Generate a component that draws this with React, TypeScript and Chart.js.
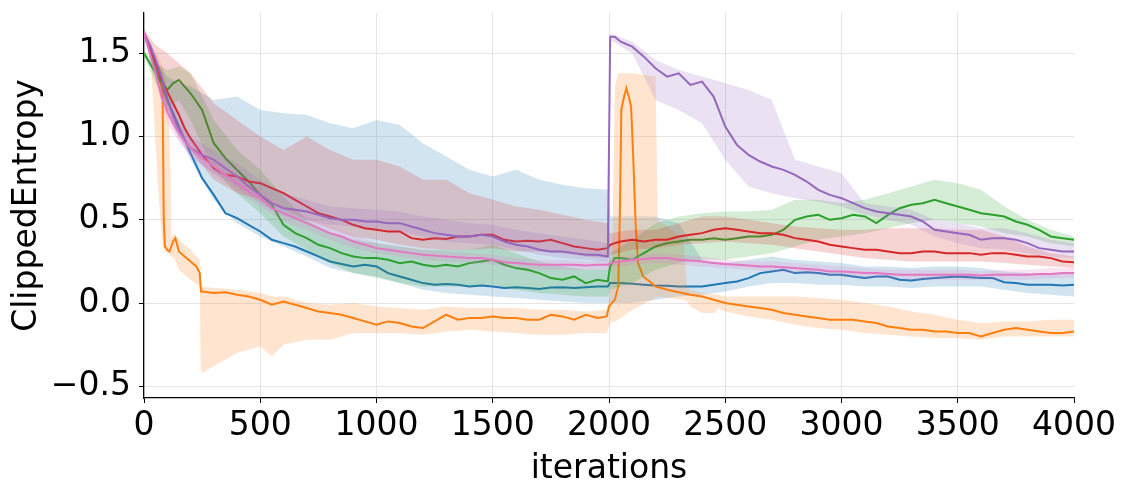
import React, { useEffect, useRef } from "react";
import Chart from "chart.js/auto";

// shared x positions for the mean curves
const XS = [
  0, 25, 50, 75, 100, 125, 150, 175, 200,
  250, 300, 350, 400, 450, 500, 550, 600, 650, 700, 750, 800, 850, 900, 950, 1000, 1050, 1100, 1150, 1200,
  1250, 1300, 1350, 1400, 1450, 1500, 1550, 1600, 1650, 1700, 1750, 1800, 1850, 1900, 1950,
  1995, 2005, 2025,
  2050, 2100, 2150, 2200, 2250, 2300, 2350, 2400, 2450, 2500, 2550, 2600, 2650, 2700, 2750, 2800, 2850,
  2900, 2950, 3000, 3050, 3100, 3150, 3200, 3250, 3300, 3350, 3400, 3450, 3500, 3550, 3600, 3650, 3700,
  3750, 3800, 3850, 3900, 3950, 4000,
];

const blueMean = [
  1.62, 1.52, 1.4, 1.31, 1.22, 1.14, 1.06, 0.98, 0.9,
  0.75, 0.65, 0.54, 0.51, 0.47, 0.43, 0.38, 0.36, 0.34, 0.31, 0.28, 0.25, 0.235, 0.22, 0.23, 0.22, 0.18, 0.16, 0.14, 0.12,
  0.11, 0.115, 0.11, 0.1, 0.105, 0.1, 0.09, 0.095, 0.09, 0.085, 0.094, 0.095, 0.09, 0.095, 0.1,
  0.1, 0.12, 0.12,
  0.12, 0.116, 0.11, 0.105, 0.104, 0.1, 0.1, 0.1, 0.11, 0.12, 0.13, 0.15, 0.18, 0.19, 0.2, 0.18, 0.185,
  0.18, 0.17, 0.17, 0.16, 0.15, 0.16, 0.16, 0.14, 0.135, 0.145, 0.15, 0.155, 0.16, 0.155, 0.15, 0.15, 0.125,
  0.12, 0.11, 0.11, 0.11, 0.105, 0.11,
];

const redMean = [
  1.62, 1.53, 1.44, 1.34, 1.27, 1.2, 1.13, 1.05, 0.99,
  0.89, 0.81, 0.77, 0.76, 0.73, 0.72, 0.69, 0.66, 0.62, 0.58, 0.54, 0.52, 0.5, 0.47, 0.45, 0.44, 0.43, 0.43, 0.39, 0.38,
  0.39, 0.385, 0.4, 0.4, 0.41, 0.41, 0.38, 0.37, 0.375, 0.37, 0.38, 0.36, 0.34, 0.33, 0.32,
  0.33, 0.35, 0.36,
  0.37, 0.38, 0.37, 0.38, 0.38, 0.4, 0.41, 0.42, 0.44, 0.45, 0.44, 0.43, 0.42, 0.42, 0.41, 0.39, 0.38,
  0.37, 0.35, 0.34, 0.33, 0.32, 0.32, 0.31, 0.3, 0.3, 0.31, 0.31, 0.3, 0.3, 0.3, 0.29, 0.3, 0.3,
  0.29, 0.28, 0.28, 0.27, 0.25, 0.245,
];

const purpleMean = [
  1.62, 1.55, 1.46, 1.36, 1.23, 1.12, 1.04, 0.98, 0.93,
  0.89, 0.86, 0.81, 0.76, 0.7, 0.65, 0.6, 0.57, 0.56, 0.55, 0.53, 0.51, 0.5, 0.5, 0.49, 0.49, 0.48, 0.48, 0.46, 0.44,
  0.42, 0.41, 0.4, 0.4, 0.41, 0.4, 0.37, 0.35, 0.34, 0.32, 0.31, 0.31, 0.3, 0.29, 0.29,
  0.28, 1.6, 1.6,
  1.57, 1.54, 1.48, 1.41, 1.36, 1.38, 1.31, 1.33, 1.24, 1.06, 0.95, 0.89, 0.85, 0.82, 0.8, 0.77, 0.73,
  0.68, 0.65, 0.63, 0.6, 0.57, 0.55, 0.54, 0.53, 0.52, 0.49, 0.44, 0.43, 0.42, 0.41, 0.38, 0.39, 0.39,
  0.38, 0.36, 0.33, 0.32, 0.31, 0.31,
];

const greenMean = [
  1.5, 1.44, 1.38, 1.33, 1.28, 1.32, 1.34, 1.3, 1.26,
  1.16, 0.96, 0.87, 0.8, 0.73, 0.65, 0.59, 0.47, 0.42, 0.39, 0.35, 0.33, 0.3, 0.28, 0.27, 0.27, 0.26, 0.24, 0.25, 0.23,
  0.22, 0.23, 0.22, 0.24, 0.25, 0.26, 0.23, 0.21, 0.2, 0.18, 0.15, 0.14, 0.16, 0.12, 0.14,
  0.13, 0.22, 0.27,
  0.27, 0.26, 0.3, 0.34, 0.36, 0.37, 0.38, 0.38, 0.39, 0.38, 0.39, 0.4, 0.4, 0.41, 0.44, 0.5, 0.52,
  0.53, 0.5, 0.51, 0.53, 0.52, 0.48, 0.53, 0.57, 0.59, 0.6, 0.62, 0.6, 0.58, 0.56, 0.54, 0.53, 0.52,
  0.49, 0.47, 0.44, 0.4, 0.39, 0.38,
];

const pinkMean = [
  1.62, 1.5, 1.38, 1.24, 1.15, 1.08, 1.02, 0.97, 0.93,
  0.87, 0.82, 0.77, 0.72, 0.67, 0.63, 0.57, 0.54, 0.51, 0.48, 0.45, 0.42, 0.4, 0.37, 0.35, 0.33, 0.32, 0.31, 0.3, 0.29,
  0.285, 0.28, 0.275, 0.27, 0.27, 0.26, 0.245, 0.24, 0.235, 0.23, 0.23, 0.23, 0.23, 0.225, 0.23,
  0.23, 0.24, 0.245,
  0.25, 0.26, 0.265, 0.27, 0.27, 0.26, 0.255, 0.25, 0.24, 0.235, 0.23, 0.225, 0.22, 0.22, 0.215, 0.21, 0.205,
  0.2, 0.19, 0.19, 0.185, 0.18, 0.18, 0.175, 0.17, 0.17, 0.17, 0.17, 0.17, 0.17, 0.17, 0.165, 0.17, 0.17,
  0.17, 0.17, 0.175, 0.175, 0.18, 0.18,
];

// orange has its own sharp features, so [iteration, value]
const orangeMean = [
  [0, 1.62], [25, 1.54], [50, 1.45], [70, 1.36], [80, 1.25], [85, 0.5], [90, 0.34], [100, 0.32],
  [110, 0.31], [125, 0.37], [135, 0.39], [150, 0.31], [175, 0.28], [200, 0.25], [225, 0.22], [240, 0.18],
  [245, 0.07], [250, 0.07], [300, 0.06], [350, 0.065], [400, 0.05], [450, 0.04], [500, 0.02], [550, -0.01],
  [600, 0.01], [650, -0.01], [700, -0.03], [750, -0.05], [800, -0.06], [850, -0.07], [900, -0.09],
  [950, -0.11], [1000, -0.13], [1050, -0.11], [1100, -0.12], [1150, -0.14], [1200, -0.15], [1250, -0.11],
  [1300, -0.07], [1350, -0.1], [1400, -0.09], [1450, -0.09], [1500, -0.08], [1550, -0.09], [1600, -0.09],
  [1650, -0.1], [1700, -0.1], [1750, -0.07], [1800, -0.08], [1850, -0.1], [1900, -0.07], [1950, -0.09],
  [1990, -0.08], [2000, -0.02], [2025, 0.02], [2040, 0.1], [2047, 0.56], [2053, 1.16], [2065, 1.24],
  [2075, 1.29], [2085, 1.24], [2095, 1.18], [2103, 0.92], [2115, 0.46], [2125, 0.24], [2147, 0.16],
  [2175, 0.13], [2200, 0.1], [2250, 0.08], [2300, 0.065], [2350, 0.05], [2400, 0.04], [2450, 0.02],
  [2500, 0.0], [2550, -0.01], [2600, -0.02], [2650, -0.03], [2700, -0.04], [2750, -0.06], [2800, -0.07],
  [2850, -0.08], [2900, -0.09], [2950, -0.1], [3000, -0.1], [3050, -0.1], [3100, -0.11], [3150, -0.12],
  [3200, -0.14], [3250, -0.15], [3300, -0.16], [3350, -0.16], [3400, -0.17], [3450, -0.17], [3500, -0.18],
  [3550, -0.18], [3600, -0.2], [3650, -0.18], [3700, -0.16], [3750, -0.15], [3800, -0.16], [3850, -0.17],
  [3900, -0.18], [3950, -0.18], [4000, -0.17],
];

// shaded spread, [iteration, low, high]
const orangeBand = [
  [0, 1.6, 1.64], [30, 1.45, 1.56], [40, 1.2, 1.52], [60, 0.7, 1.48], [80, 0.34, 1.42], [95, 0.3, 1.32],
  [105, 0.3, 1.2], [112, 0.29, 0.9], [118, 0.28, 0.4], [130, 0.27, 0.42], [150, 0.2, 0.38], [200, 0.14, 0.32],
  [240, 0.1, 0.26], [244, -0.4, 0.12], [250, -0.42, 0.1], [300, -0.38, 0.09], [400, -0.3, 0.08],
  [500, -0.26, 0.06], [550, -0.32, 0.04], [600, -0.25, 0.04], [700, -0.22, 0.0], [800, -0.22, -0.01],
  [900, -0.18, 0.0], [1000, -0.18, -0.02], [1100, -0.18, -0.03], [1200, -0.19, -0.04], [1300, -0.17, -0.02],
  [1400, -0.16, -0.03], [1500, -0.17, -0.03], [1600, -0.18, -0.03], [1700, -0.19, -0.04], [1800, -0.19, -0.04],
  [1900, -0.18, -0.05], [1990, -0.18, -0.04], [2005, -0.12, 0.05], [2015, -0.11, 0.4], [2025, -0.11, 1.3],
  [2040, -0.1, 1.38], [2100, -0.04, 1.38], [2200, 0.03, 1.36], [2210, 0.04, 0.5], [2260, 0.03, 0.45],
  [2320, 0.02, 0.38], [2335, 0.01, 0.1], [2350, -0.02, 0.08], [2400, -0.06, 0.06], [2455, -0.06, 0.05],
  [2470, -0.03, 0.05], [2500, -0.05, 0.04], [2600, -0.08, 0.04], [2700, -0.1, 0.04], [2800, -0.13, 0.04],
  [2900, -0.15, 0.03], [3000, -0.16, 0.02], [3100, -0.18, 0.0], [3200, -0.19, -0.02], [3300, -0.2, -0.05],
  [3400, -0.21, -0.07], [3500, -0.21, -0.1], [3600, -0.22, -0.12], [3700, -0.2, -0.11], [3800, -0.2, -0.11],
  [3900, -0.2, -0.1], [4000, -0.2, -0.1],
];

// x positions for the other shaded bands
const BAND_X = [
  0, 50, 100, 150, 200, 300, 400, 500, 600, 700, 800,
  900, 1000, 1100, 1200, 1300, 1400, 1500, 1600, 1700, 1800, 1900,
  1995, 2005, 2100, 2200, 2300, 2400, 2500, 2600, 2700, 2800, 2900,
  3000, 3100, 3200, 3300, 3400, 3500, 3600, 3700, 3800, 3900, 4000,
];

const blueLo = [
  1.6, 1.36, 1.17, 1.02, 0.86, 0.62, 0.48, 0.4, 0.34, 0.28, 0.21,
  0.18, 0.16, 0.12, 0.08, 0.06, 0.05, 0.04, 0.03, 0.02, 0.01, 0.0,
  0.0, 0.0, 0.0, 0.02, 0.04, 0.05, 0.07, 0.1, 0.12, 0.12, 0.11,
  0.11, 0.1, 0.1, 0.09, 0.1, 0.1, 0.1, 0.08, 0.06, 0.05, 0.04,
];
const blueHi = [
  1.64, 1.45, 1.36, 1.32, 1.3, 1.22, 1.24, 1.16, 1.14, 1.13, 1.08,
  1.05, 1.1, 1.07, 0.96, 0.88, 0.8, 0.76, 0.8, 0.74, 0.71, 0.69,
  0.68, 0.52, 0.52, 0.52, 0.48, 0.26, 0.24, 0.26, 0.28, 0.26, 0.25,
  0.24, 0.22, 0.22, 0.21, 0.22, 0.22, 0.21, 0.19, 0.18, 0.18, 0.18,
];

const redLo = [
  1.6, 1.4, 1.15, 1.02, 0.92, 0.74, 0.66, 0.62, 0.56, 0.5, 0.45,
  0.4, 0.38, 0.35, 0.33, 0.32, 0.32, 0.33, 0.31, 0.31, 0.3, 0.28,
  0.27, 0.29, 0.32, 0.33, 0.35, 0.36, 0.37, 0.36, 0.35, 0.33, 0.31,
  0.29, 0.27, 0.26, 0.25, 0.25, 0.25, 0.25, 0.24, 0.23, 0.22, 0.21,
];
const redHi = [
  1.64, 1.55, 1.5, 1.44, 1.38, 1.2, 1.1, 1.0, 0.92, 1.0, 0.92,
  0.86, 0.86, 0.82, 0.74, 0.74, 0.66, 0.62, 0.58, 0.56, 0.53, 0.5,
  0.48, 0.42, 0.44, 0.44, 0.48, 0.52, 0.52, 0.5, 0.48, 0.46, 0.45,
  0.44, 0.44, 0.45, 0.45, 0.45, 0.44, 0.44, 0.4, 0.34, 0.3, 0.28,
];

const purpleLo = [
  1.6, 1.42, 1.14, 0.98, 0.88, 0.78, 0.7, 0.6, 0.52, 0.5, 0.47,
  0.46, 0.45, 0.43, 0.4, 0.37, 0.36, 0.35, 0.32, 0.29, 0.27, 0.26,
  0.25, 1.58, 1.5, 1.22, 1.16, 1.08, 0.86, 0.7, 0.66, 0.63, 0.61,
  0.58, 0.53, 0.5, 0.47, 0.4, 0.36, 0.33, 0.32, 0.3, 0.28, 0.27,
];
const purpleHi = [
  1.64, 1.5, 1.28, 1.1, 1.0, 0.92, 0.84, 0.74, 0.66, 0.62, 0.58,
  0.57, 0.56, 0.55, 0.52, 0.5, 0.48, 0.47, 0.44, 0.42, 0.4, 0.38,
  0.36, 1.62, 1.57, 1.46, 1.4, 1.36, 1.32, 1.28, 1.22, 0.86, 0.82,
  0.78, 0.6, 0.58, 0.56, 0.5, 0.48, 0.45, 0.45, 0.42, 0.38, 0.36,
];

const greenLo = [
  1.48, 1.32, 1.18, 1.22, 1.1, 0.8, 0.66, 0.54, 0.4, 0.32, 0.24,
  0.18, 0.15, 0.12, 0.1, 0.1, 0.1, 0.11, 0.08, 0.06, 0.05, 0.04,
  0.04, 0.08, 0.12, 0.2, 0.24, 0.26, 0.26, 0.28, 0.3, 0.34, 0.38,
  0.4, 0.42, 0.45, 0.48, 0.5, 0.48, 0.46, 0.42, 0.4, 0.36, 0.34,
];
const greenHi = [
  1.52, 1.44, 1.4, 1.42, 1.38, 1.1, 0.92, 0.8, 0.64, 0.5, 0.42,
  0.38, 0.36, 0.34, 0.32, 0.32, 0.32, 0.35, 0.3, 0.25, 0.22, 0.2,
  0.2, 0.3, 0.38, 0.48, 0.52, 0.54, 0.55, 0.55, 0.56, 0.62, 0.62,
  0.6, 0.62, 0.66, 0.7, 0.74, 0.72, 0.68, 0.58, 0.5, 0.44, 0.4,
];

const pinkLo = [
  1.6, 1.34, 1.08, 0.97, 0.88, 0.77, 0.67, 0.58, 0.49, 0.44, 0.38,
  0.33, 0.3, 0.28, 0.26, 0.25, 0.24, 0.23, 0.21, 0.2, 0.2, 0.2,
  0.2, 0.21, 0.23, 0.24, 0.23, 0.22, 0.21, 0.2, 0.19, 0.18, 0.17,
  0.16, 0.15, 0.15, 0.14, 0.14, 0.14, 0.14, 0.14, 0.14, 0.15, 0.15,
];
const pinkHi = [
  1.64, 1.42, 1.2, 1.08, 0.98, 0.87, 0.77, 0.68, 0.58, 0.52, 0.46,
  0.41, 0.36, 0.34, 0.32, 0.31, 0.3, 0.29, 0.27, 0.26, 0.26, 0.25,
  0.26, 0.27, 0.29, 0.3, 0.29, 0.28, 0.26, 0.25, 0.25, 0.24, 0.23,
  0.22, 0.21, 0.2, 0.2, 0.2, 0.2, 0.19, 0.2, 0.2, 0.21, 0.21,
];

const Y_TICKS = [-0.5, 0, 0.5, 1.0, 1.5];

const FONT = { family: "'DejaVu Sans', sans-serif", size: 33 };
const GRID = "#e5e5e5";

const pts = (xs: number[], ys: number[]) => xs.map((x, i) => ({ x, y: ys[i] }));

const SERIES = [
  { color: "#1f77b4", rgb: "31,119,180", mean: pts(XS, blueMean), lo: pts(BAND_X, blueLo), hi: pts(BAND_X, blueHi) },
  {
    color: "#ff7f0e",
    rgb: "255,127,14",
    mean: orangeMean.map(([x, y]) => ({ x, y })),
    lo: orangeBand.map(([x, l]) => ({ x, y: l })),
    hi: orangeBand.map(([x, , h]) => ({ x, y: h })),
  },
  { color: "#2ca02c", rgb: "44,160,44", mean: pts(XS, greenMean), lo: pts(BAND_X, greenLo), hi: pts(BAND_X, greenHi) },
  { color: "#d62728", rgb: "214,39,40", mean: pts(XS, redMean), lo: pts(BAND_X, redLo), hi: pts(BAND_X, redHi) },
  { color: "#9467bd", rgb: "148,103,189", mean: pts(XS, purpleMean), lo: pts(BAND_X, purpleLo), hi: pts(BAND_X, purpleHi) },
  { color: "#e377c2", rgb: "227,119,194", mean: pts(XS, pinkMean), lo: pts(BAND_X, pinkLo), hi: pts(BAND_X, pinkHi) },
];

function buildDatasets() {
  const out: any[] = [];
  SERIES.forEach((s, i) => {
    const o = 50 - 2 * i;
    // band: upper edge filled down to the next dataset (lower edge)
    out.push({
      data: s.hi, order: o, borderWidth: 0, pointRadius: 0, tension: 0,
      backgroundColor: `rgba(${s.rgb},0.2)`, fill: "+1",
    });
    out.push({ data: s.lo, order: o, borderWidth: 0, pointRadius: 0, tension: 0, fill: false });
    out.push({
      data: s.mean, order: o - 1, borderColor: s.color, borderWidth: 2,
      pointRadius: 0, tension: 0, fill: false,
    });
  });
  return out;
}

const App: React.FC = () => {
  const canvasRef = useRef<HTMLCanvasElement>(null);

  useEffect(() => {
    document.body.style.margin = "0";
    if (!canvasRef.current) return;
    const chart = new Chart(canvasRef.current, {
      type: "line",
      data: { datasets: buildDatasets() },
      options: {
        responsive: false,
        animation: false,
        layout: { padding: { top: 13, right: 53, left: 0, bottom: 0 } },
        plugins: { legend: { display: false }, tooltip: { enabled: false } },
        scales: {
          x: {
            type: "linear",
            min: 0,
            max: 4000,
            ticks: {
              stepSize: 500,
              font: FONT,
              color: "#000",
              padding: 4,
              maxRotation: 0,
              autoSkip: false,
              callback: (v: any) => String(v),
            },
            grid: {
              color: (c: any) => (c.tick && c.tick.value === 4000 ? "rgba(0,0,0,0)" : GRID),
              tickColor: "#000",
              tickLength: 5,
              lineWidth: 1,
            },
            border: { color: "#000", width: 1.25 },
            title: { display: true, text: "iterations", font: FONT, color: "#000", padding: { top: 0, bottom: 2 } },
            afterFit: (s: any) => {
              s.height = 93;
              s.paddingLeft = 0;
              s.paddingRight = 0;
            },
          },
          y: {
            type: "linear",
            min: -0.57,
            max: 1.742,
            afterBuildTicks: (s: any) => {
              s.ticks = Y_TICKS.map((v) => ({ value: v }));
            },
            ticks: {
              font: FONT,
              color: "#000",
              padding: 8,
              callback: (v: any) => Number(v).toFixed(1).replace("-", "\u2212"),
            },
            grid: { color: GRID, tickColor: "#000", tickLength: 5, lineWidth: 1 },
            border: { color: "#000", width: 1.25 },
            title: { display: true, text: "ClippedEntropy", font: FONT, color: "#000", padding: { top: 8, bottom: 0 } },
            afterFit: (s: any) => {
              s.width = 144;
              s.paddingTop = 0;
              s.paddingBottom = 0;
            },
          },
        },
      },
    });
    return () => chart.destroy();
  }, []);

  return (
    <div style={{ width: 1127, height: 491, background: "#fff" }}>
      <canvas ref={canvasRef} width={1127} height={491} style={{ display: "block" }} />
    </div>
  );
};

export default App;
